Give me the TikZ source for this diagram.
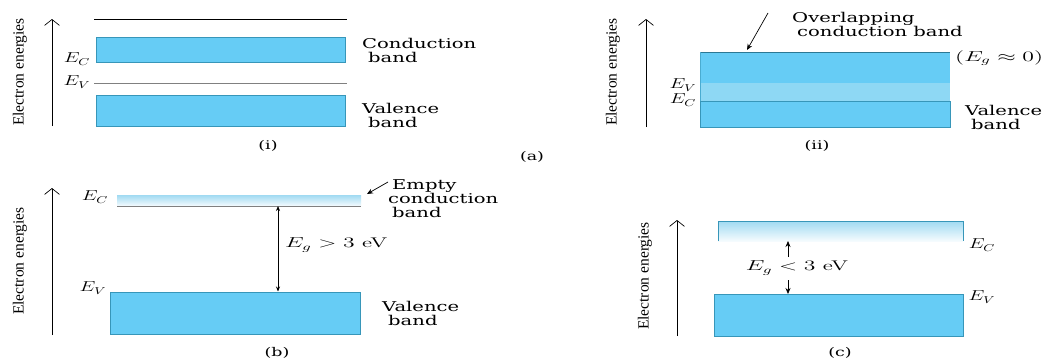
\documentclass[tikz,border=0pt]{standalone}
\usepackage{fontspec}
\usepackage{graphicx}
\usetikzlibrary{arrows.meta}
\newfontfamily\labfont[FakeStretch=1.45]{DejaVu Serif}
\newfontfamily\axfont{Liberation Serif}
\newcommand\lab{\fontsize{13.5}{14}\selectfont\labfont}
\newcommand\mx[1]{\scalebox{1.4}[1]{\fontsize{14}{16}\selectfont$#1$}}
\newcommand\mxw[1]{\scalebox{1.65}[1]{\fontsize{14}{16}\selectfont#1}}
\definecolor{bandblue}{RGB}{102,204,245}
\definecolor{bandedge}{RGB}{55,150,185}
\definecolor{bandlight}{RGB}{142,216,244}
\definecolor{gradtop}{RGB}{160,218,242}
\tikzset{
  lbl/.style={font=\lab, align=left, anchor=west, inner sep=0pt},
  sub/.style={font=\fontsize{12}{14}\selectfont\labfont, inner sep=0pt},
  mlab/.style={inner sep=0pt},
  axlab/.style={font=\fontsize{15.5}{17}\selectfont\axfont, rotate=90, inner sep=0pt},
  axis/.style={line width=0.7pt, -{Straight Barb[length=6pt,width=15pt,line width=0.7pt]}},
  band/.style={fill=bandblue, draw=bandedge, line width=0.8pt},
  gband/.style={top color=gradtop, bottom color=white!90!gradtop},
  ptr/.style={line width=0.7pt, -{Stealth[length=6pt,width=5pt]}},
  gap/.style={line width=0.7pt, {Stealth[length=5pt,width=4pt]}-{Stealth[length=5pt,width=4pt]}},
}
\begin{document}
\begin{tikzpicture}[x=1pt,y=-1pt]
\useasboundingbox[fill=white] (0,0) rectangle (1042,362);

% ---------- (a)(i) ----------
\coordinate (a1lo) at (52,126);
\coordinate (a1hi) at (52,19);
\draw[axis] (a1lo) -- (a1hi);
\node[axlab] (a1ax) at (20,72) {Electron energies};
\draw[line width=1pt] (94,19) -- (347,19);
\draw[band] (96,37) rectangle (345,62);
\draw[gray, line width=0.6pt] (94,83) -- (347,83);
\draw[band] (96,95) rectangle (345,126);
\node[mlab] (a1ec) at (77,59) {\mx{E_C}};
\node[mlab] (a1ev) at (77,82) {\mx{E_V}};
\node[lbl] (a1cb) at (362,50) {Conduction\\\hspace{6pt}band};
\node[lbl] (a1vb) at (362,115) {Valence\\\hspace{6pt}band};
\node[sub] (a1cap) at (268,146) {(i)};

% ---------- (a)(ii) ----------
\coordinate (a2lo) at (646,127);
\coordinate (a2hi) at (646,19);
\draw[axis] (a2lo) -- (a2hi);
\node[axlab] (a2ax) at (613,72) {Electron energies};
\fill[bandblue] (700,52) rectangle (950,127);
\fill[bandlight] (700,83) rectangle (950,101);
\draw[bandedge!80!black, line width=1pt] (700,52) -- (950,52);
\draw[bandedge, line width=0.8pt] (700,101) rectangle (950,127);
\draw[bandedge!60!bandblue, line width=0.6pt] (700,52) -- (700,101);
\node[mlab] (a2ev) at (683,85) {\mx{E_V}};
\node[mlab] (a2ec) at (683,100) {\mx{E_C}};
\node[lbl] (a2ov) at (792,24) {Overlapping\\\hspace{5pt}conduction band};
\coordinate (a2p1) at (768,13);
\coordinate (a2p2) at (747,50);
\draw[ptr] (a2p1) -- (a2p2);
\node[mlab, anchor=west] (a2eg) at (955,58) {\mxw{$(E_g \approx 0)$}};
\node[lbl] (a2vb) at (965,117) {Valence\\\hspace{6pt}band};
\node[sub] (a2cap) at (817,146) {(ii)};
\node[sub] (acap) at (532,157) {(a)};

% ---------- (b) ----------
\coordinate (blo) at (52,335);
\coordinate (bhi) at (52,188);
\draw[axis] (blo) -- (bhi);
\node[axlab] (bax) at (20,261) {Electron energies};
\shade[gband] (117,195) rectangle (361,206);
\draw[gray, line width=0.6pt] (117,206) -- (361,206);
\draw[band] (110,292) rectangle (360,334);
\node[mlab] (bec) at (95,197) {\mx{E_C}};
\node[mlab] (bev) at (93,288) {\mx{E_V}};
\coordinate (bg1) at (278,206);
\coordinate (bg2) at (278,291.5);
\draw[gap] (bg1) -- (bg2);
\node[mlab, anchor=west] (beg) at (285,245) {\mxw{$E_g > 3$ eV}};
\node[lbl] (bcb) at (388,199) {\hspace{4pt}Empty\\conduction\\\hspace{4pt}band};
\coordinate (bp1) at (388,182);
\coordinate (bp2) at (367,194);
\draw[ptr] (bp1) -- (bp2);
\node[lbl] (bvb) at (382,313) {Valence\\\hspace{6pt}band};
\node[sub] (bcap) at (277,353) {(b)};

% ---------- (c) ----------
\coordinate (clo) at (677,336);
\coordinate (chi) at (677,220);
\draw[axis] (clo) -- (chi);
\node[axlab] (cax) at (645,276) {Electron energies};
\shade[gband] (718,221) rectangle (963,241);
\draw[bandedge, line width=0.8pt] (718,241) -- (718,221) -- (963,221) -- (963,241);
\draw[band] (714,294) rectangle (963,336);
\node[mlab] (cec) at (982,245) {\mx{E_C}};
\node[mlab] (cev) at (982,297) {\mx{E_V}};
\node[mlab] (ceg) at (797,268) {\mxw{$E_g < 3$ eV}};
\coordinate (cu1) at (788,257);
\coordinate (cu2) at (788,241);
\coordinate (cd1) at (788,280);
\coordinate (cd2) at (788,294);
\draw[ptr] (cu1) -- (cu2);
\draw[ptr] (cd1) -- (cd2);
\node[sub] (ccap) at (840,353) {(c)};
\end{tikzpicture}
\end{document}
